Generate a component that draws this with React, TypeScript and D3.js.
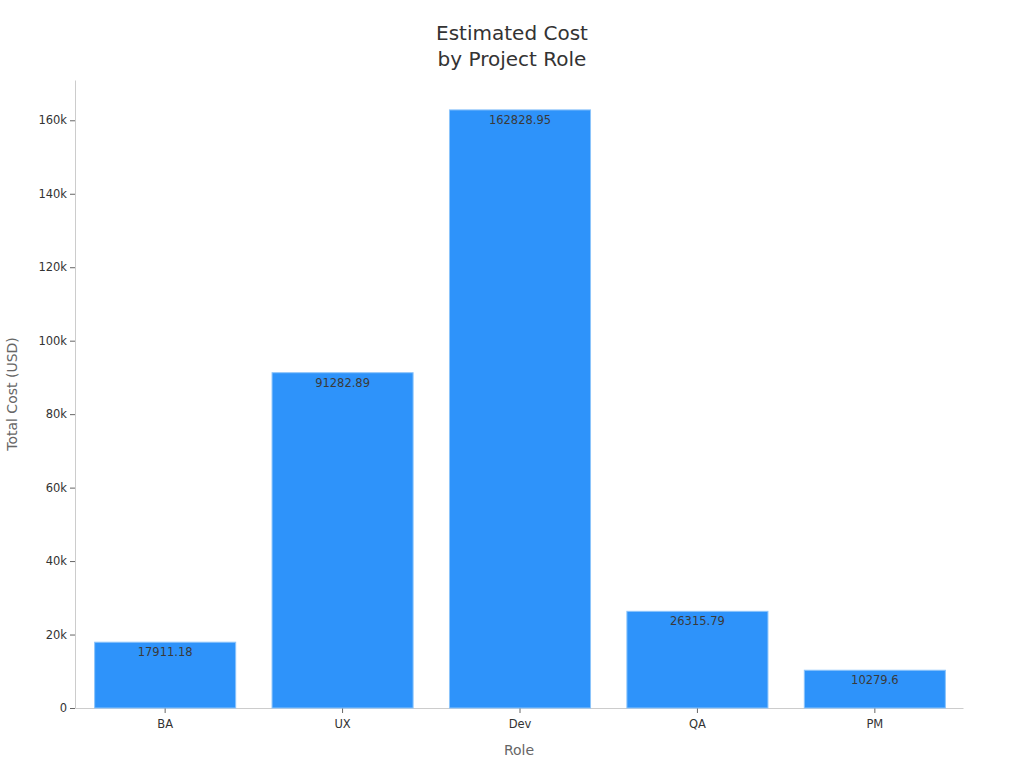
import React, { useEffect, useRef } from "react";
import * as d3 from "d3";

const roles = ["BA", "UX", "Dev", "QA", "PM"];
const costs = [17911.18, 91282.89, 162828.95, 26315.79, 10279.6];
const yTicks = [0, 20000, 40000, 60000, 80000, 100000, 120000, 140000, 160000];

export default function App() {
  const ref = useRef<SVGSVGElement>(null);
  useEffect(() => {
    const svg = d3.select(ref.current);
    svg.selectAll("*").remove();
    const W = 1024, H = 768;
    const m = { left: 75, right: 61, top: 80, bottom: 60 };
    const font = "DejaVu Sans, sans-serif";
    const x = d3.scaleBand<string>().domain(roles).range([m.left + 1, W - m.right + 1]).paddingInner(0.205).paddingOuter(0.105);
    const y = d3.scaleLinear().domain([0, d3.max(costs)! * 1.05]).range([H - m.bottom, m.top]);

    svg.append("text").attr("x", 512).attr("y", 40).attr("text-anchor", "middle")
      .attr("font-family", font).attr("font-size", 20).attr("fill", "#333").text("Estimated Cost");
    svg.append("text").attr("x", 512).attr("y", 66).attr("text-anchor", "middle")
      .attr("font-family", font).attr("font-size", 20).attr("fill", "#333").text("by Project Role");

    // y axis
    const ya = svg.append("g").attr("transform", `translate(${m.left},0)`)
      .call(d3.axisLeft(y).tickValues(yTicks).tickSize(5).tickSizeOuter(0).tickPadding(3).tickFormat((d) => (+d === 0 ? "0" : `${+d / 1000}k`)));
    ya.select(".domain").attr("stroke", "#ccc");
    ya.selectAll(".tick line").attr("stroke", "#666");
    ya.selectAll(".tick text").attr("font-family", font).attr("font-size", 11.5).attr("fill", "#333");

    const xa = svg.append("g").attr("transform", `translate(0,${H - m.bottom})`)
      .call(d3.axisBottom(x).tickSize(5).tickSizeOuter(0).tickPadding(7));
    xa.select(".domain").attr("stroke", "#ccc").attr("transform", "translate(-1,0)");
    xa.selectAll(".tick line").attr("stroke", "#666");
    xa.selectAll(".tick text").attr("font-family", font).attr("font-size", 11.5).attr("fill", "#333");

    svg.append("g").selectAll("rect").data(costs).join("rect")
      .attr("x", (_, i) => x(roles[i])!).attr("width", x.bandwidth())
      .attr("y", (d) => y(d)).attr("height", (d) => y(0) - y(d))
      .attr("fill", "#2e93fa").attr("stroke", "#8cc4fb").attr("stroke-width", 1);

    svg.append("g").selectAll("text").data(costs).join("text")
      .attr("x", (_, i) => x(roles[i])! + x.bandwidth() / 2).attr("y", (d) => y(d) + 14)
      .attr("text-anchor", "middle").attr("font-family", font).attr("font-size", 11.5)
      .attr("fill", "#3a3a3a").text((d) => String(d));

    svg.append("text").attr("x", (m.left + W - m.right) / 2).attr("y", 755).attr("text-anchor", "middle")
      .attr("font-family", font).attr("font-size", 14).attr("fill", "#666").text("Role");
    svg.append("text").attr("transform", `translate(17,${(m.top + H - m.bottom) / 2}) rotate(-90)`)
      .attr("text-anchor", "middle").attr("font-family", font).attr("font-size", 14).attr("fill", "#666").text("Total Cost (USD)");
  }, []);
  return <svg ref={ref} width={1024} height={768} style={{ position: "absolute", left: 0, top: 0 }} />;
}
